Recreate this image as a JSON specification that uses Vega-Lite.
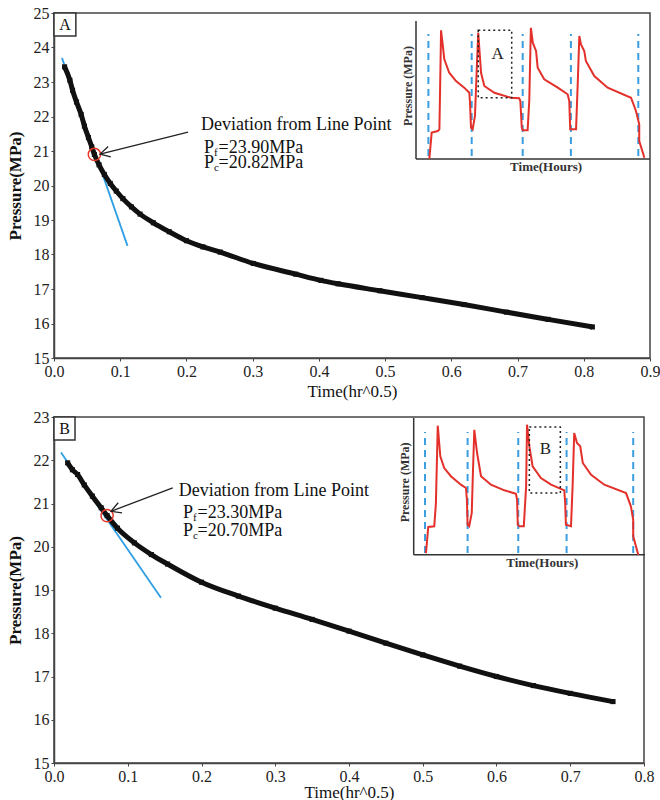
{
  "$schema": "https://vega.github.io/schema/vega-lite/v6.json",
  "padding": {"left": 5, "top": 4, "right": 0, "bottom": 0},
  "spacing": 8,
  "config": {
    "font": "Liberation Serif",
    "view": {"stroke": "#444", "strokeWidth": 1.5},
    "axis": {"domainColor": "#444", "domainWidth": 1.5, "tickColor": "#444", "tickSize": 3, "labelFont": "Liberation Serif", "labelFontSize": 16, "labelColor": "#222", "labelPadding": 2, "labelFlush": false, "labelOverlap": false, "titleFont": "Liberation Serif", "titleColor": "#111", "grid": false}
  },
  "datasets": {
    "curveA": [
      {"x":0.016,"y":23.44},{"x":0.024,"y":23.05},{"x":0.028,"y":22.76},{"x":0.034,"y":22.42},{"x":0.041,"y":22.06},{"x":0.046,"y":21.72},{"x":0.052,"y":21.39},{"x":0.057,"y":21.12},{"x":0.061,"y":20.9},{"x":0.068,"y":20.6},{"x":0.076,"y":20.32},{"x":0.085,"y":20.06},{"x":0.094,"y":19.84},{"x":0.104,"y":19.62},{"x":0.117,"y":19.38},{"x":0.13,"y":19.17},{"x":0.15,"y":18.92},{"x":0.174,"y":18.66},{"x":0.2,"y":18.4},{"x":0.225,"y":18.22},{"x":0.251,"y":18.07},{"x":0.301,"y":17.74},{"x":0.365,"y":17.43},{"x":0.403,"y":17.25},{"x":0.429,"y":17.15},{"x":0.492,"y":16.95},{"x":0.556,"y":16.75},{"x":0.619,"y":16.55},{"x":0.683,"y":16.33},{"x":0.746,"y":16.12},{"x":0.813,"y":15.9}
    ],
    "curveB": [
      {"x":0.0185,"y":21.94},{"x":0.025,"y":21.78},{"x":0.032,"y":21.67},{"x":0.041,"y":21.43},{"x":0.052,"y":21.17},{"x":0.064,"y":20.9},{"x":0.072,"y":20.72},{"x":0.086,"y":20.43},{"x":0.109,"y":20.09},{"x":0.132,"y":19.82},{"x":0.154,"y":19.6},{"x":0.2,"y":19.18},{"x":0.25,"y":18.86},{"x":0.3,"y":18.58},{"x":0.35,"y":18.32},{"x":0.4,"y":18.05},{"x":0.45,"y":17.77},{"x":0.5,"y":17.5},{"x":0.55,"y":17.24},{"x":0.6,"y":17.0},{"x":0.65,"y":16.79},{"x":0.7,"y":16.61},{"x":0.758,"y":16.42}
    ],
    "tanA": [{"x":0.012,"y":23.7},{"x":0.111,"y":18.25}],
    "tanB": [{"x":0.0095,"y":22.18},{"x":0.145,"y":18.82}],
    "circA": [{"x":0.061,"y":20.9}],
    "circB": [{"x":0.072,"y":20.72}],
    "arrowA": [{"x":0.2024,"y":21.55,"x2":0.0695,"y2":20.91}],
    "arrowB": [{"x":0.161,"y":21.36,"x2":0.0773,"y2":20.82}],
    "headA": [{"x":0.0695,"y":20.91}],
    "headB": [{"x":0.0773,"y":20.82}],
    "boxA": [{"x":0.0,"x2":0.033,"y":25,"y2":24.33}],
    "boxB": [{"x":0.0,"x2":0.0285,"y":23,"y2":22.47}],
    "letterA": [{"x":0.0166,"y":24.66,"t":"A"}],
    "letterB": [{"x":0.0142,"y":22.72,"t":"B"}],
    "devA": [{"x":0.222,"y":21.74,"t":"Deviation from Line Point"}],
    "devB": [{"x":0.169,"y":21.29,"t":"Deviation from Line Point"}],
    "pA": [{"x":0.2266,"y":21.09,"t":"P","s":"f","r":"=23.90MPa"},{"x":0.2266,"y":20.65,"t":"P","s":"c","r":"=20.82MPa"}],
    "pB": [{"x":0.175,"y":20.78,"t":"P","s":"f","r":"=23.30MPa"},{"x":0.175,"y":20.36,"t":"P","s":"c","r":"=20.70MPa"}],
    "redA": [
      {"u":5.7,"v":0},{"u":6.7,"v":19.1},{"u":9.3,"v":20.3},{"u":10.0,"v":21.5},{"u":10.5,"v":71},{"u":10.7,"v":93.3},{"u":11.4,"v":83.1},{"u":12.1,"v":72.2},{"u":14.2,"v":62.5},{"u":17.1,"v":56.5},{"u":20.6,"v":51.7},{"u":22.8,"v":48.0},{"u":23.1,"v":39.9},{"u":23.5,"v":22.7},{"u":24.2,"v":21.5},{"u":25.2,"v":31.2},{"u":26.1,"v":71.0},{"u":26.6,"v":91.5},{"u":27.8,"v":62.5},{"u":29.2,"v":52.9},{"u":33.5,"v":48.0},{"u":40.6,"v":44.4},{"u":44.1,"v":44.0},{"u":44.6,"v":42.0},{"u":45.2,"v":22.7},{"u":45.6,"v":20.8},{"u":47.7,"v":20.8},{"u":48.4,"v":42.0},{"u":49.1,"v":95.1},{"u":49.9,"v":84.3},{"u":51.3,"v":78.3},{"u":52.0,"v":66.2},{"u":54.8,"v":57.8},{"u":60.6,"v":51.7},{"u":64.8,"v":46.9},{"u":65.5,"v":42.0},{"u":65.9,"v":21.5},{"u":68.4,"v":21.5},{"u":69.1,"v":54.1},{"u":69.8,"v":89.1},{"u":70.5,"v":83.1},{"u":71.9,"v":78.3},{"u":72.6,"v":71.0},{"u":76.2,"v":60.1},{"u":81.9,"v":51.7},{"u":91.9,"v":44.4},{"u":94.0,"v":34.8},{"u":95.4,"v":25.1},{"u":95.4,"v":13.0},{"u":97.6,"v":0.9}
    ],
    "redB": [
      {"u":5.3,"v":1.2},{"u":6.3,"v":20.3},{"u":8.9,"v":20.8},{"u":9.6,"v":37.8},{"u":10.4,"v":94.4},{"u":11.5,"v":72.0},{"u":13.2,"v":63.4},{"u":16.1,"v":57.4},{"u":20.4,"v":51.2},{"u":22.6,"v":48.8},{"u":23.0,"v":40.2},{"u":23.3,"v":21.9},{"u":24.0,"v":20.8},{"u":25.1,"v":30.5},{"u":25.6,"v":59.8},{"u":26.2,"v":91.4},{"u":27.4,"v":74.4},{"u":29.1,"v":57.4},{"u":33.4,"v":51.2},{"u":39.2,"v":47.1},{"u":44.2,"v":44.6},{"u":44.7,"v":40.2},{"u":45.0,"v":21.9},{"u":45.7,"v":20.8},{"u":47.6,"v":20.8},{"u":48.6,"v":50.0},{"u":49.0,"v":95.1},{"u":50.0,"v":79.3},{"u":51.4,"v":64.7},{"u":55.0,"v":56.1},{"u":59.4,"v":51.2},{"u":65.1,"v":47.1},{"u":65.5,"v":37.8},{"u":65.8,"v":21.9},{"u":68.0,"v":20.8},{"u":68.7,"v":50.0},{"u":69.4,"v":89.0},{"u":70.6,"v":81.7},{"u":72.0,"v":79.3},{"u":73.1,"v":67.1},{"u":76.7,"v":58.5},{"u":82.4,"v":51.2},{"u":91.8,"v":45.1},{"u":93.9,"v":35.4},{"u":94.9,"v":25.6},{"u":94.9,"v":13.5},{"u":97.1,"v":0}
    ],
    "dashA": [{"u":5.3,"v":2.2,"v2":90.6},{"u":23.8,"v":2.2,"v2":90.6},{"u":45.6,"v":2.2,"v2":90.6},{"u":66.2,"v":2.2,"v2":90.6},{"u":95.0,"v":2.2,"v2":90.6}],
    "dashB": [{"u":4.9,"v":1.2,"v2":89.8},{"u":23.3,"v":1.2,"v2":89.8},{"u":45.2,"v":1.2,"v2":89.8},{"u":66.1,"v":1.2,"v2":89.8},{"u":94.9,"v":1.2,"v2":89.8}],
    "insetAxes": [{"u":0,"v":0,"u2":0,"v2":100},{"u":0,"v":0,"u2":100,"v2":0}],
    "dotA": [{"u":26.6,"u2":40.9,"v":44.4,"v2":93.3}],
    "dotB": [{"u":50.0,"u2":63.4,"v":45.1,"v2":93.4}],
    "dotLabelA": [{"u":34.9,"v":75.9,"t":"A"}],
    "dotLabelB": [{"u":56.9,"v":77.3,"t":"B"}],
    "insetTitles": [{"u":55.6,"v":-5.8,"t":"Time(Hours)"}],
    "insetYTitle": [{"u":-3.6,"v":52.9,"t":"Pressure (MPa)"}]
  },
  "vconcat": [
    {
      "width": 596,
      "height": 345,
      "resolve": {"scale": {"x": "independent", "y": "independent"}},
      "layer": [
        {
          "encoding": {
            "x": {"field": "x", "type": "quantitative", "scale": {"domain": [0, 0.9], "nice": false, "zero": false}, "axis": {"values": [0,0.1,0.2,0.3,0.4,0.5,0.6,0.7,0.8,0.9], "title": "Time(hr^0.5)", "titleFontSize": 17, "titleFontWeight": "normal", "titlePadding": 4}},
            "y": {"field": "y", "type": "quantitative", "scale": {"domain": [15, 25], "nice": false, "zero": false}, "axis": {"values": [15,16,17,18,19,20,21,22,23,24,25], "title": "Pressure(MPa)", "titleFontSize": 17, "titleFontWeight": "bold", "titlePadding": 9}}
          },
          "layer": [
            {"data": {"name": "tanA"}, "mark": {"type": "line", "color": "#2f9fe3", "strokeWidth": 1.8}},
            {"data": {"name": "curveA"}, "mark": {"type": "line", "color": "#111", "strokeWidth": 5, "strokeJoin": "round", "interpolate": "monotone"}},
            {"data": {"name": "curveA"}, "mark": {"type": "point", "shape": "square", "filled": true, "color": "#111", "size": 26, "opacity": 1}},
            {"data": {"name": "circA"}, "mark": {"type": "point", "shape": "circle", "filled": false, "color": "#e8392b", "strokeWidth": 1.5, "size": 150, "opacity": 1}},
            {"data": {"name": "arrowA"}, "mark": {"type": "rule", "color": "#222", "strokeWidth": 1.3}, "encoding": {"x2": {"field": "x2"}, "y2": {"field": "y2"}}},
            {"data": {"name": "headA"}, "mark": {"type": "point", "shape": "M-1,-0.55L0,0L-1,0.55", "filled": false, "color": "#222", "strokeWidth": 1.3, "size": 380, "angle": 166, "opacity": 1}},
            {"data": {"name": "boxA"}, "mark": {"type": "rect", "fill": "white", "stroke": "#333", "strokeWidth": 1.5}, "encoding": {"x2": {"field": "x2"}, "y2": {"field": "y2"}}},
            {"data": {"name": "letterA"}, "mark": {"type": "text", "fontSize": 16, "color": "#111", "align": "center", "baseline": "middle"}, "encoding": {"text": {"field": "t"}}},
            {"data": {"name": "devA"}, "mark": {"type": "text", "fontSize": 18, "color": "#111", "align": "left", "baseline": "middle"}, "encoding": {"text": {"field": "t"}}},
            {"data": {"name": "pA"}, "mark": {"type": "text", "fontSize": 18, "color": "#111", "align": "left", "baseline": "middle"}, "encoding": {"text": {"field": "t"}}},
            {"data": {"name": "pA"}, "mark": {"type": "text", "fontSize": 11, "color": "#111", "align": "left", "baseline": "middle", "dx": 10, "dy": 5}, "encoding": {"text": {"field": "s"}}},
            {"data": {"name": "pA"}, "mark": {"type": "text", "fontSize": 18, "color": "#111", "align": "left", "baseline": "middle", "dx": 14.5}, "encoding": {"text": {"field": "r"}}}
          ]
        },
        {
          "encoding": {
            "x": {"field": "u", "type": "quantitative", "scale": {"domain": [0, 100], "range": [362, 596], "nice": false, "zero": false}, "axis": null},
            "y": {"field": "v", "type": "quantitative", "scale": {"domain": [0, 100], "range": [146, 8], "nice": false, "zero": false}, "axis": null}
          },
          "layer": [
            {"data": {"name": "insetAxes"}, "mark": {"type": "rule", "color": "#333", "strokeWidth": 1.5}, "encoding": {"x2": {"field": "u2"}, "y2": {"field": "v2"}}},
            {"data": {"name": "dashA"}, "mark": {"type": "rule", "color": "#3a9ee0", "strokeWidth": 2, "strokeDash": [7, 5]}, "encoding": {"y2": {"field": "v2"}}},
            {"data": {"name": "redA"}, "mark": {"type": "line", "color": "#e3302a", "strokeWidth": 2}, "encoding": {"order": {"value": null}}},
            {"data": {"name": "dotA"}, "mark": {"type": "rect", "fill": null, "fillOpacity": 0, "stroke": "#222", "strokeWidth": 1.5, "strokeDash": [2, 3]}, "encoding": {"x2": {"field": "u2"}, "y2": {"field": "v2"}}},
            {"data": {"name": "dotLabelA"}, "mark": {"type": "text", "fontSize": 17, "color": "#222", "align": "center", "baseline": "middle"}, "encoding": {"text": {"field": "t"}}},
            {"data": {"name": "insetTitles"}, "mark": {"type": "text", "fontSize": 13, "fontWeight": "bold", "color": "#333", "align": "center", "baseline": "middle"}, "encoding": {"text": {"field": "t"}}},
            {"data": {"name": "insetYTitle"}, "mark": {"type": "text", "fontSize": 12, "fontWeight": "bold", "color": "#333", "align": "center", "baseline": "middle", "angle": 270}, "encoding": {"text": {"field": "t"}}}
          ]
        }
      ]
    },
    {
      "width": 590,
      "height": 346,
      "resolve": {"scale": {"x": "independent", "y": "independent"}},
      "layer": [
        {
          "encoding": {
            "x": {"field": "x", "type": "quantitative", "scale": {"domain": [0, 0.8], "nice": false, "zero": false}, "axis": {"values": [0,0.1,0.2,0.3,0.4,0.5,0.6,0.7,0.8], "title": "Time(hr^0.5)", "titleFontSize": 17, "titleFontWeight": "normal", "titlePadding": 0}},
            "y": {"field": "y", "type": "quantitative", "scale": {"domain": [15, 23], "nice": false, "zero": false}, "axis": {"values": [15,16,17,18,19,20,21,22,23], "title": "Pressure(MPa)", "titleFontSize": 17, "titleFontWeight": "bold", "titlePadding": 9}}
          },
          "layer": [
            {"data": {"name": "tanB"}, "mark": {"type": "line", "color": "#2f9fe3", "strokeWidth": 1.8}},
            {"data": {"name": "curveB"}, "mark": {"type": "line", "color": "#111", "strokeWidth": 5, "strokeJoin": "round", "interpolate": "monotone"}},
            {"data": {"name": "curveB"}, "mark": {"type": "point", "shape": "square", "filled": true, "color": "#111", "size": 26, "opacity": 1}},
            {"data": {"name": "circB"}, "mark": {"type": "point", "shape": "circle", "filled": false, "color": "#e8392b", "strokeWidth": 1.5, "size": 150, "opacity": 1}},
            {"data": {"name": "arrowB"}, "mark": {"type": "rule", "color": "#222", "strokeWidth": 1.3}, "encoding": {"x2": {"field": "x2"}, "y2": {"field": "y2"}}},
            {"data": {"name": "headB"}, "mark": {"type": "point", "shape": "M-1,-0.55L0,0L-1,0.55", "filled": false, "color": "#222", "strokeWidth": 1.3, "size": 380, "angle": 159, "opacity": 1}},
            {"data": {"name": "boxB"}, "mark": {"type": "rect", "fill": "white", "stroke": "#333", "strokeWidth": 1.5}, "encoding": {"x2": {"field": "x2"}, "y2": {"field": "y2"}}},
            {"data": {"name": "letterB"}, "mark": {"type": "text", "fontSize": 16, "color": "#111", "align": "center", "baseline": "middle"}, "encoding": {"text": {"field": "t"}}},
            {"data": {"name": "devB"}, "mark": {"type": "text", "fontSize": 18, "color": "#111", "align": "left", "baseline": "middle"}, "encoding": {"text": {"field": "t"}}},
            {"data": {"name": "pB"}, "mark": {"type": "text", "fontSize": 18, "color": "#111", "align": "left", "baseline": "middle"}, "encoding": {"text": {"field": "t"}}},
            {"data": {"name": "pB"}, "mark": {"type": "text", "fontSize": 11, "color": "#111", "align": "left", "baseline": "middle", "dx": 10, "dy": 5}, "encoding": {"text": {"field": "s"}}},
            {"data": {"name": "pB"}, "mark": {"type": "text", "fontSize": 18, "color": "#111", "align": "left", "baseline": "middle", "dx": 14.5}, "encoding": {"text": {"field": "r"}}}
          ]
        },
        {
          "encoding": {
            "x": {"field": "u", "type": "quantitative", "scale": {"domain": [0, 100], "range": [359.7, 591], "nice": false, "zero": false}, "axis": null},
            "y": {"field": "v", "type": "quantitative", "scale": {"domain": [0, 100], "range": [137.7, 1], "nice": false, "zero": false}, "axis": null}
          },
          "layer": [
            {"data": {"name": "insetAxes"}, "mark": {"type": "rule", "color": "#333", "strokeWidth": 1.5}, "encoding": {"x2": {"field": "u2"}, "y2": {"field": "v2"}}},
            {"data": {"name": "dashB"}, "mark": {"type": "rule", "color": "#3a9ee0", "strokeWidth": 2, "strokeDash": [7, 5]}, "encoding": {"y2": {"field": "v2"}}},
            {"data": {"name": "redB"}, "mark": {"type": "line", "color": "#e3302a", "strokeWidth": 2}, "encoding": {"order": {"value": null}}},
            {"data": {"name": "dotB"}, "mark": {"type": "rect", "fill": null, "fillOpacity": 0, "stroke": "#222", "strokeWidth": 1.5, "strokeDash": [2, 3]}, "encoding": {"x2": {"field": "u2"}, "y2": {"field": "v2"}}},
            {"data": {"name": "dotLabelB"}, "mark": {"type": "text", "fontSize": 17, "color": "#222", "align": "center", "baseline": "middle"}, "encoding": {"text": {"field": "t"}}},
            {"data": {"name": "insetTitles"}, "mark": {"type": "text", "fontSize": 13, "fontWeight": "bold", "color": "#333", "align": "center", "baseline": "middle"}, "encoding": {"text": {"field": "t"}}},
            {"data": {"name": "insetYTitle"}, "mark": {"type": "text", "fontSize": 12, "fontWeight": "bold", "color": "#333", "align": "center", "baseline": "middle", "angle": 270}, "encoding": {"text": {"field": "t"}}}
          ]
        }
      ]
    }
  ]
}
